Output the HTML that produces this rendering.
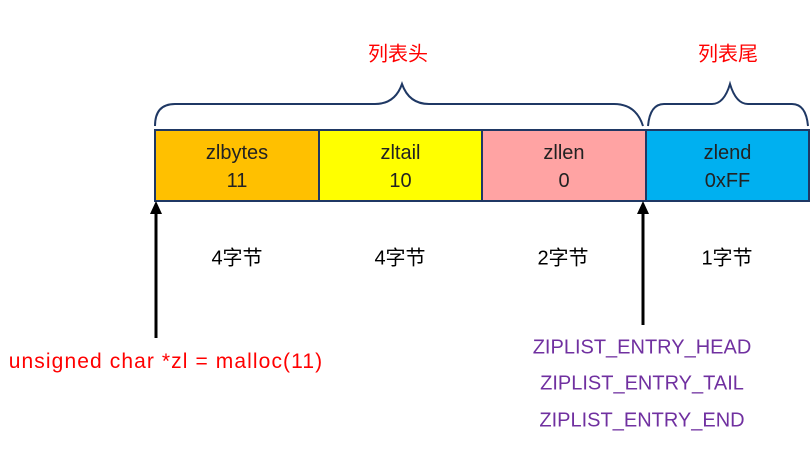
<!DOCTYPE html>
<html><head><meta charset="utf-8"><style>
body{margin:0;width:810px;height:473px;background:#fff;overflow:hidden;position:relative;font-family:"Liberation Sans","Noto Sans CJK SC",sans-serif}
.t{position:absolute;font-size:19px;white-space:nowrap;transform:translate(-50%,-50%)}
.b{position:absolute;top:129px;height:73px;box-sizing:border-box;border:2px solid #1f3864;text-align:center;font-size:20px;line-height:28px;padding-top:8px;color:#222}
</style></head><body>
<div class="b" style="left:154px;width:166px;background:#ffc000">zlbytes<br>11</div>
<div class="b" style="left:318px;width:165px;background:#ffff00">zltail<br>10</div>
<div class="b" style="left:481px;width:166px;background:#ffa3a3">zllen<br>0</div>
<div class="b" style="left:645px;width:165px;background:#00b0f0">zlend<br>0xFF</div>
<svg width="810" height="473" style="position:absolute;left:0;top:0">
<g fill="none" stroke="#1f3864" stroke-width="2">
<path d="M155,126 Q155,104 175,104 L375,104 Q395,104 402,84 Q409,104 429,104 L614,104 Q636,104 643,126"/>
<path d="M648,126 Q650,104 664,104 L712,104 Q724,104 730,84 Q736,104 748,104 L792,104 Q806,104 808,126"/>
</g>
<g stroke="#000" stroke-width="3" fill="#000">
<line x1="156" y1="338" x2="156" y2="212"/><polygon points="150,214 162,214 156,201" stroke="none"/>
<line x1="643" y1="325" x2="643" y2="212"/><polygon points="637,214 649,214 643,201" stroke="none"/>
</g>
</svg>
<div class="t" style="left:398px;top:52px;color:#ff0000;font-size:20px">列表头</div>
<div class="t" style="left:728px;top:52px;color:#ff0000;font-size:20px">列表尾</div>
<div class="t" style="left:237px;top:256px;font-size:20px">4字节</div>
<div class="t" style="left:400px;top:256px;font-size:20px">4字节</div>
<div class="t" style="left:563px;top:256px;font-size:20px">2字节</div>
<div class="t" style="left:727px;top:256px;font-size:20px">1字节</div>
<div class="t" style="left:166px;top:362px;color:#ff0000;font-size:21px;letter-spacing:1.1px">unsigned char *zl = malloc(11)</div>
<div class="t" style="left:642px;top:348px;color:#7030a0;font-size:20px">ZIPLIST_ENTRY_HEAD</div>
<div class="t" style="left:642px;top:384px;color:#7030a0;font-size:20px">ZIPLIST_ENTRY_TAIL</div>
<div class="t" style="left:642px;top:421px;color:#7030a0;font-size:20px">ZIPLIST_ENTRY_END</div>
</body></html>
